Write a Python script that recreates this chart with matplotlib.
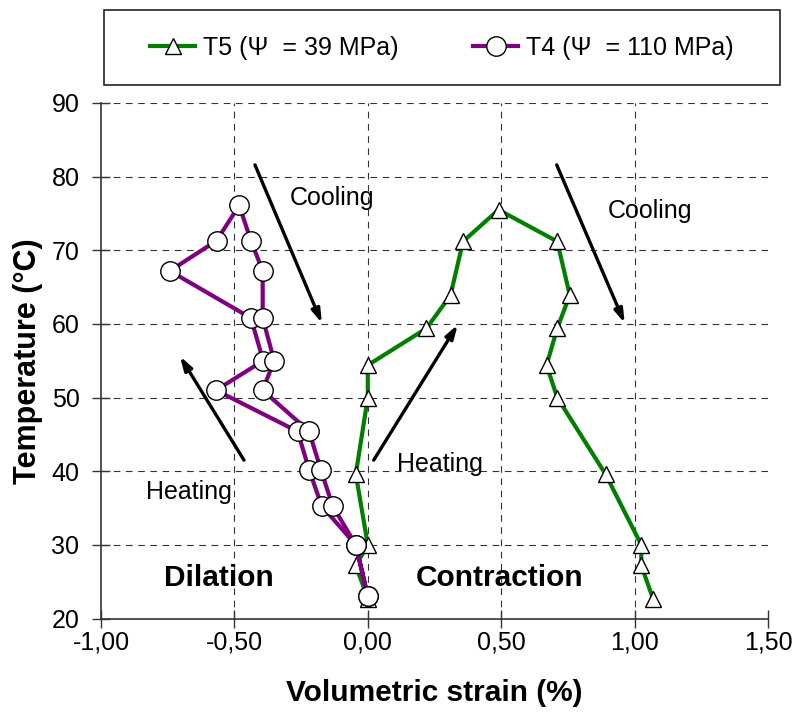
import matplotlib
matplotlib.use("Agg")
import matplotlib.pyplot as plt
from matplotlib.patches import Rectangle

plt.rcParams['font.family'] = ['Liberation Sans', 'DejaVu Sans']

# T5 (psi = 39 MPa): heating then cooling
t5_strain = [0.0, -0.045, 0.0, -0.045, 0.0, 0.0, 0.22, 0.31, 0.357, 0.49,
             0.71, 0.757, 0.71, 0.67, 0.71, 0.891, 1.025, 1.025, 1.069]
t5_temp = [22.7, 27.2, 30.0, 39.6, 50.0, 54.4, 59.4, 63.9, 71.2, 75.5,
           71.2, 63.9, 59.4, 54.4, 50.0, 39.6, 30.0, 27.2, 22.7]

# T4 (psi = 110 MPa): heating then cooling
t4_strain = [0.0, -0.045, -0.173, -0.22, -0.263, -0.569, -0.392, -0.438, -0.742, -0.567, -0.482,
             -0.438, -0.394, -0.394, -0.351, -0.394, -0.22, -0.176, -0.132, -0.045, 0.0]
t4_temp = [23.0, 30.0, 35.3, 40.2, 45.4, 51.0, 55.0, 60.8, 67.2, 71.3, 76.1,
           71.3, 67.2, 60.8, 55.0, 51.0, 45.4, 40.2, 35.3, 30.0, 23.0]

x_ticks = [-1.0, -0.5, 0.0, 0.5, 1.0, 1.5]
x_tick_labels = ['-1,00', '-0,50', '0,00', '0,50', '1,00', '1,50']
y_ticks = [20, 30, 40, 50, 60, 70, 80, 90]

# arrows: (start x, start y, end x, end y)
arrows = [
    (-0.423, 81.6, -0.172, 60.1),
    (-0.464, 41.5, -0.704, 55.6),
    (0.022, 41.5, 0.337, 59.9),
    (0.708, 81.6, 0.963, 60.1),
]

fig = plt.figure(figsize=(7.95, 7.2), dpi=100)
ax = fig.add_axes([101 / 795, 1 - 618.5 / 720, 667 / 795, 515.5 / 720])

for gx in [-0.5, 0.0, 0.5, 1.0]:
    ax.axvline(gx, color='#333333', linestyle=(0, (6, 5)), linewidth=0.8, zorder=0)
for gy in [30, 40, 50, 60, 70, 80, 90]:
    ax.axhline(gy, color='#333333', linestyle=(0, (6, 5)), linewidth=0.8, zorder=0)

ax.plot(t5_strain, t5_temp, color='#008000', linewidth=3, marker='^', markersize=12,
        markerfacecolor='white', markeredgecolor='black', markeredgewidth=1.0,
        label='T5 (Ψ  = 39 MPa)', zorder=3)
ax.plot(t4_strain, t4_temp, color='#800080', linewidth=3, marker='o', markersize=14,
        markerfacecolor='white', markeredgecolor='black', markeredgewidth=1.0,
        label='T4 (Ψ  = 110 MPa)', zorder=4)

for x0, y0, x1, y1 in arrows:
    ax.annotate('', xy=(x1, y1), xytext=(x0, y0),
                arrowprops=dict(arrowstyle='-|>,head_length=0.8,head_width=0.25',
                                color='black', linewidth=2.4, shrinkA=0, shrinkB=0),
                zorder=5)

ax.text(-0.135, 77.1, 'Cooling', fontsize=18, ha='center', va='center')
ax.text(1.056, 75.3, 'Cooling', fontsize=18, ha='center', va='center')
ax.text(-0.670, 37.2, 'Heating', fontsize=18, ha='center', va='center')
ax.text(0.27, 41.0, 'Heating', fontsize=18, ha='center', va='center')
ax.text(-0.558, 25.5, 'Dilation', fontsize=21.5, fontweight='bold', ha='center', va='center')
ax.text(0.495, 25.5, 'Contraction', fontsize=21.5, fontweight='bold', ha='center', va='center')

ax.set_xlim(-1.0, 1.5)
ax.set_ylim(20, 90)
ax.set_xticks(x_ticks)
ax.set_xticklabels(x_tick_labels)
ax.set_yticks(y_ticks)
ax.tick_params(direction='inout', length=13, width=1, labelsize=18, color='#333333')
ax.tick_params(axis='y', pad=9)
ax.tick_params(axis='x', pad=2)
ax.spines['top'].set_visible(False)
ax.spines['right'].set_visible(False)
for s in ['left', 'bottom']:
    ax.spines[s].set_color('#333333')
    ax.spines[s].set_linewidth(1.2)

ax.set_xlabel('Volumetric strain (%)', fontsize=21.5, fontweight='bold')
ax.set_ylabel('Temperature (°C)', fontsize=22, fontweight='bold')
ax.xaxis.set_label_coords(0.5, -0.118)
ax.yaxis.set_label_coords(-0.087, 0.5)

# legend box drawn in figure pixels
fig.add_artist(Rectangle((104 / 795, 1 - 85 / 720), 676 / 795, 75 / 720,
                         transform=fig.transFigure, facecolor='white',
                         edgecolor='#222222', linewidth=1.2))
leg = fig.legend(loc='center', bbox_to_anchor=(442 / 795, 1 - 47.5 / 720), ncol=2,
                 fontsize=18, frameon=False, handlelength=1.8, columnspacing=3.0,
                 handletextpad=0.3)

fig.savefig('out.png', dpi=100)
